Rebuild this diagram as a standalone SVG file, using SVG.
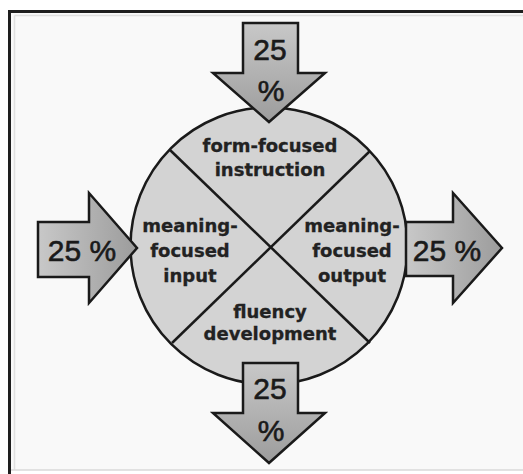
<svg xmlns="http://www.w3.org/2000/svg" width="523" height="474" viewBox="0 0 523 474">
<defs>
<linearGradient id="gDown" x1="0" y1="0" x2="0" y2="1"><stop offset="0" stop-color="#c8c8c8"/><stop offset="1" stop-color="#9c9c9c"/></linearGradient>
<linearGradient id="gRight" x1="0" y1="0" x2="1" y2="0"><stop offset="0" stop-color="#c8c8c8"/><stop offset="1" stop-color="#9c9c9c"/></linearGradient>
<style>
.arrow{stroke:#1a1a1a;stroke-width:2.5;stroke-linejoin:miter}
.pct{font-family:"Liberation Sans",Arial,sans-serif;font-size:30px;fill:#1a1a1a;stroke:#1a1a1a;stroke-width:0.6;text-anchor:middle}
.lbl{font-family:"DejaVu Sans",Verdana,sans-serif;font-weight:bold;font-size:18px;fill:#222;stroke:#222;stroke-width:0.3;text-anchor:middle}
.div{stroke:#1a1a1a;stroke-width:2.5;fill:none}
</style>
</defs>
<rect x="0" y="0" width="523" height="474" fill="#ffffff"/>
<rect x="10" y="12" width="513" height="458" fill="#f9f9f9"/>
<g id="frame">
<line x1="9.5" y1="11.5" x2="523" y2="11.5" stroke="#1e1e1e" stroke-width="3"/>
<line x1="9.5" y1="10" x2="9.5" y2="474" stroke="#1e1e1e" stroke-width="3"/>
<line x1="14.5" y1="15.5" x2="523" y2="15.5" stroke="#e0e0e0" stroke-width="1.5"/>
<line x1="14.5" y1="15.5" x2="14.5" y2="470" stroke="#e0e0e0" stroke-width="1.5"/>
<line x1="11" y1="470" x2="523" y2="470" stroke="#d8d8d8" stroke-width="1.5"/>
</g>
<g id="circle">
<circle cx="269" cy="246" r="138.5" fill="#d3d3d3" stroke="#1a1a1a" stroke-width="2.5"/>
</g>
<g id="connectors">
<line class="div" x1="170" y1="150" x2="370" y2="343"/>
<line class="div" x1="370" y1="151" x2="172" y2="343"/>
</g>
<g id="sector-top"><text class="lbl" x="270" y="152">form-focused</text><text class="lbl" x="270" y="176">instruction</text></g>
<g id="sector-left"><text class="lbl" x="190" y="232">meaning-</text><text class="lbl" x="190" y="257">focused</text><text class="lbl" x="190" y="282">input</text></g>
<g id="sector-right"><text class="lbl" x="352" y="232">meaning-</text><text class="lbl" x="352" y="257">focused</text><text class="lbl" x="352" y="282">output</text></g>
<g id="sector-bottom"><text class="lbl" x="270" y="318">fluency</text><text class="lbl" x="270" y="340">development</text></g>
<g id="arrow-top">
<polygon class="arrow" fill="url(#gDown)" points="243,23 298,23 298,73 325,73 269,122 213,73 243,73"/>
<text class="pct" x="270" y="60">25</text><text class="pct" x="271" y="101">%</text>
</g>
<g id="arrow-left">
<polygon class="arrow" fill="url(#gRight)" points="38,222 89,222 89,193 137,248 89,303 89,277 38,277"/>
<text class="pct" x="82" y="261">25 %</text>
</g>
<g id="arrow-right">
<polygon class="arrow" fill="url(#gRight)" points="406,222 453,222 453,193 502,248 453,303 453,276 406,276"/>
<text class="pct" x="447" y="261">25 %</text>
</g>
<g id="arrow-bottom">
<polygon class="arrow" fill="url(#gDown)" points="243,363 298,363 298,413 325,413 269,463 213,413 243,413"/>
<text class="pct" x="270" y="399">25</text><text class="pct" x="271" y="441">%</text>
</g>
</svg>
